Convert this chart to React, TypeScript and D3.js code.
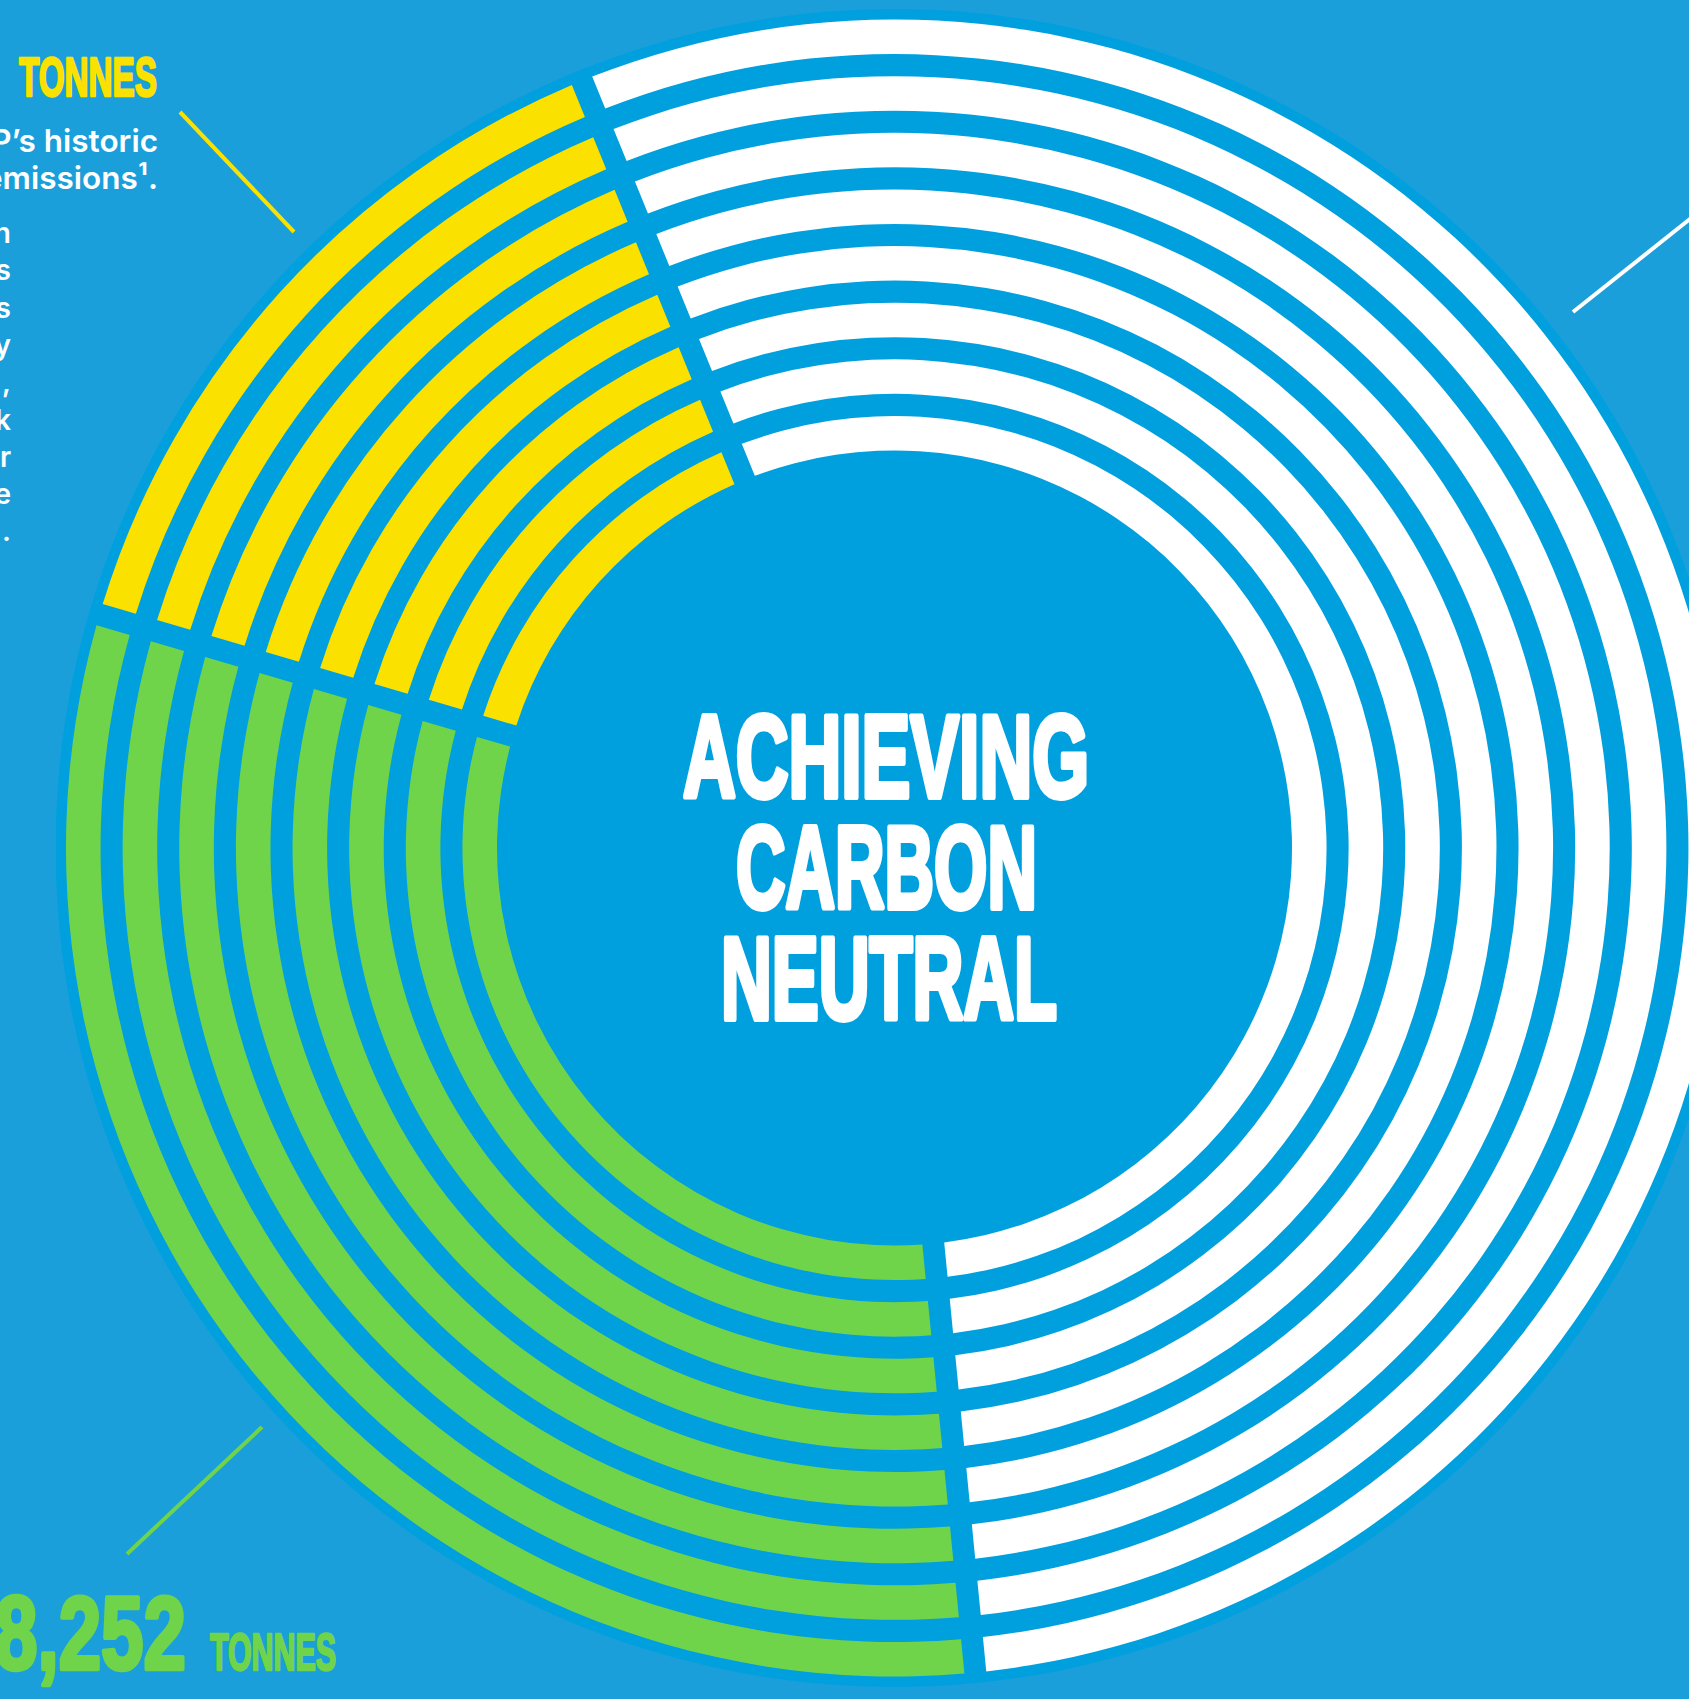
import { useEffect, useRef } from "react";
import * as d3 from "d3";

// rings drawn from the inside out
const ringIds = [1, 2, 3, 4, 5, 6, 7, 8];
// share of each ring (percent of the full turn)
const segmentNames = ["offset", "historic", "remaining"];
const segmentShares = [31.1, 14.3, 54.6];

const titleLines = ["ACHIEVING", "CARBON", "NEUTRAL"];
const historicIntro = ["P’s historic", "emissions¹."];
const paragraphTails = ["n", "s", "s", "y", ",", "k", "r", "e", "."];
const offsetValue = "8,252";
const unitLabel = "TONNES";

const W = 1689;
const H = 1699;

export default function App() {
  const ref = useRef<SVGSVGElement>(null);

  useEffect(() => {
    document.body.style.margin = "0";
    const svg = d3.select(ref.current);
    svg.selectAll("*").remove();
    svg.attr("width", W).attr("height", H);

    const cx = 894.5;
    const cy = 848;

    svg.append("rect").attr("width", W).attr("height", H).attr("fill", "#1a9fda");

    svg
      .append("clipPath")
      .attr("id", "discClip")
      .append("rect")
      .attr("x", 56)
      .attr("y", 0)
      .attr("width", W)
      .attr("height", H);

    svg
      .append("circle")
      .attr("cx", cx)
      .attr("cy", cy)
      .attr("r", 839)
      .attr("fill", "#00a0df")
      .attr("clip-path", "url(#discClip)");

    const color = d3
      .scaleOrdinal<string>()
      .domain(segmentNames)
      .range(["#70d44b", "#fae100", "#ffffff"]);

    const radius = d3
      .scaleBand<number>()
      .domain(ringIds)
      .range([397.5, 828.5])
      .paddingInner(0.39);

    const start = (174.4 * Math.PI) / 180;
    const pie = d3
      .pie<number>()
      .sort(null)
      .value((d) => d)
      .startAngle(start)
      .endAngle(start + Math.PI * 2);
    const slices = pie(segmentShares);

    const g = svg.append("g").attr("transform", `translate(${cx},${cy})`);

    ringIds.forEach((id) => {
      const r0 = radius(id)!;
      const arc = d3
        .arc<d3.PieArcDatum<number>>()
        .innerRadius(r0)
        .outerRadius(r0 + radius.bandwidth())
        .padRadius(100)
        .padAngle(0.22);
      g.append("g")
        .selectAll("path")
        .data(slices)
        .join("path")
        .attr("d", arc)
        .attr("fill", (d, i) => color(segmentNames[i]));
    });

    // leader lines
    const lines = [
      { p: [180, 112, 294, 232], c: "#fae100" },
      { p: [127, 1554, 262, 1427], c: "#70d44b" },
      { p: [1573, 312, 1700, 211], c: "#ffffff" },
    ];
    lines.forEach((l) => {
      svg
        .append("line")
        .attr("x1", l.p[0])
        .attr("y1", l.p[1])
        .attr("x2", l.p[2])
        .attr("y2", l.p[3])
        .attr("stroke", l.c)
        .attr("stroke-width", 4);
    });

    const display = "'Liberation Sans Narrow', 'Liberation Sans', Arial, sans-serif";
    const body = "Inter, 'Open Sans', sans-serif";

    // title
    const titleX = [683, 736, 721];
    const titleLen = [406, 301, 336];
    titleLines.forEach((t, i) => {
      svg
        .append("text")
        .text(t)
        .attr("x", titleX[i])
        .attr("y", 797 + i * 111)
        .attr("textLength", titleLen[i])
        .attr("lengthAdjust", "spacingAndGlyphs")
        .attr("font-family", display)
        .attr("font-weight", "bold")
        .attr("font-size", 117)
        .attr("fill", "#fff")
        .attr("stroke", "#fff")
        .attr("stroke-width", 6)
        .attr("stroke-linejoin", "round");
    });

    // yellow label
    svg
      .append("text")
      .text(unitLabel)
      .attr("x", 19)
      .attr("y", 96)
      .attr("textLength", 138)
      .attr("lengthAdjust", "spacingAndGlyphs")
      .attr("font-family", display)
      .attr("font-weight", "bold")
      .attr("font-size", 55)
      .attr("fill", "#fae100")
      .attr("stroke", "#fae100")
      .attr("stroke-width", 2.5)
      .attr("stroke-linejoin", "round");

    historicIntro.forEach((t, i) => {
      svg
        .append("text")
        .text(t)
        .attr("x", 158)
        .attr("y", 152 + i * 36.8)
        .attr("text-anchor", "end")
        .attr("font-family", body)
        .attr("font-weight", 600)
        .attr("font-size", 31.5)
        .attr("fill", "#fff");
    });

    paragraphTails.forEach((t, i) => {
      svg
        .append("text")
        .text(t)
        .attr("x", 11)
        .attr("y", 243 + i * 37.3)
        .attr("text-anchor", "end")
        .attr("font-family", body)
        .attr("font-weight", 600)
        .attr("font-size", 28)
        .attr("fill", "#fff");
    });

    // green label
    svg
      .append("text")
      .text(offsetValue)
      .attr("x", -5)
      .attr("y", 1669)
      .attr("textLength", 191)
      .attr("lengthAdjust", "spacingAndGlyphs")
      .attr("font-family", display)
      .attr("font-weight", "bold")
      .attr("font-size", 104)
      .attr("fill", "#70d44b")
      .attr("stroke", "#70d44b")
      .attr("stroke-width", 4.5)
      .attr("stroke-linejoin", "round");
    svg
      .append("text")
      .text(unitLabel)
      .attr("x", 210)
      .attr("y", 1670)
      .attr("textLength", 126)
      .attr("lengthAdjust", "spacingAndGlyphs")
      .attr("font-family", display)
      .attr("font-weight", "bold")
      .attr("font-size", 51)
      .attr("fill", "#70d44b")
      .attr("stroke", "#70d44b")
      .attr("stroke-width", 2.5)
      .attr("stroke-linejoin", "round");
  }, []);

  return <svg ref={ref} style={{ display: "block" }}></svg>;
}
